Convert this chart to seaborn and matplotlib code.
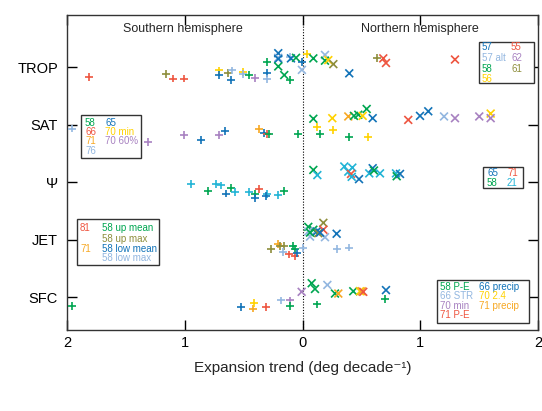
import matplotlib
matplotlib.use("Agg")
import matplotlib.pyplot as plt
import seaborn as sns
import pandas as pd
from matplotlib.patches import Rectangle

# ---------------- data ----------------
metrics = ["TROP", "SAT", "Ψ", "JET", "SFC"]
xticks = [-2, -1, 0, 1, 2]
xtick_labels = ["2", "1", "0", "1", "2"]

palette = {
    "blue": "#1273b8", "lightblue": "#93b7e0", "red": "#ee5540",
    "green": "#00a651", "olive": "#8e8e3c", "yellow": "#ffd200",
    "orange": "#f7a823", "purple": "#a882c1", "cyan": "#22b4d6",
}

# trend (negative = Southern hemisphere), small vertical offset within row
trop_trend = [-1.811, -1.159, -1.102, -1.006, -0.707, -0.707, -0.630, -0.601, -0.607,
              -0.508, -0.503, -0.452, -0.403, -0.304, -0.304, -0.304, -0.206, -0.206,
              -0.206, -0.206, -0.106, -0.098, -0.055, -0.155, -0.106, -0.005, -0.005,
              0.041, 0.092, 0.191, 0.191, 0.219, 0.262, 0.397, 0.635, 0.686, 0.709, 1.295]
trop_offset = [0.18, 0.12, 0.20, 0.20, 0.06, 0.14, 0.11, 0.06, 0.23,
               0.09, 0.12, 0.14, 0.19, 0.11, 0.21, -0.09, -0.24, -0.16,
               -0.14, -0.01, -0.18, -0.15, -0.16, 0.14, 0.23, -0.09, 0.05,
               -0.23, -0.15, -0.21, -0.11, -0.12, -0.05, 0.11, -0.15, -0.15, -0.07, -0.13]
trop_marker = list("++++++++++++++++x" "xxx+xxx++x+" "xxxxxx+xxxx")
trop_color = ["red", "olive", "red", "red", "yellow", "blue", "olive", "lightblue", "blue",
              "yellow", "lightblue", "green", "purple", "blue", "lightblue", "green", "blue", "lightblue",
              "blue", "green", "lightblue", "blue", "green", "green", "green", "blue", "lightblue",
              "yellow", "green", "lightblue", "green", "yellow", "olive", "blue", "olive", "red", "red", "red"]

sat_trend = [-1.960, -1.310, -1.006, -0.865, -0.707, -0.658, -0.367, -0.327, -0.304, -0.282,
             -0.036, 0.092, 0.126, 0.149, 0.253, 0.256, 0.389, 0.437, 0.474, 0.511,
             0.545, 0.596, 0.397, 0.559, 0.898, 0.998, 1.068, 1.202, 1.295, 1.501, 1.598, 1.598]
sat_offset = [0.07, 0.30, 0.19, 0.27, 0.19, 0.11, 0.08, 0.15, 0.17, 0.17,
              0.17, -0.10, 0.05, 0.17, -0.11, 0.10, -0.14, -0.15, -0.17, -0.15,
              -0.27, -0.11, 0.21, 0.22, -0.08, -0.15, -0.23, -0.14, -0.11, -0.14, -0.19, -0.11]
sat_marker = list("+++++++++++x++x+xxxxxx++xxxxxxxx")
sat_color = ["lightblue", "purple", "purple", "blue", "purple", "blue", "orange", "blue", "red", "green",
             "green", "green", "yellow", "green", "yellow", "yellow", "orange", "green", "green", "yellow",
             "green", "blue", "green", "yellow", "red", "blue", "blue", "lightblue", "purple", "purple", "yellow", "purple"]

psi_trend = [-0.947, -0.805, -0.737, -0.695, -0.652, -0.607, -0.573, -0.454, -0.367, -0.403,
             -0.403, -0.299, -0.310, -0.206, -0.155, 0.092, 0.126, 0.355, 0.423, 0.389,
             0.412, 0.418, 0.480, 0.567, 0.596, 0.607, 0.658, 0.794, 0.800, 0.828]
psi_offset = [0.03, 0.16, 0.03, 0.06, 0.20, 0.11, 0.17, 0.17, 0.12, 0.21,
              0.28, 0.21, 0.24, 0.23, 0.16, -0.21, -0.12, -0.27, -0.25, -0.18,
              -0.14, -0.09, -0.05, -0.15, -0.24, -0.20, -0.15, -0.15, -0.10, -0.14]
psi_marker = list("+++++++++++++++xxxxxxxxxxxxxxx")
psi_color = ["cyan", "green", "cyan", "cyan", "blue", "green", "cyan", "cyan", "red", "green",
             "blue", "cyan", "blue", "cyan", "green", "green", "cyan", "cyan", "cyan", "cyan",
             "red", "cyan", "blue", "cyan", "blue", "green", "cyan", "cyan", "green", "blue"]

jet_trend = [-0.268, -0.206, -0.191, -0.157, -0.163, -0.078, -0.064, -0.112, -0.064, -0.044,
             0.007, 0.296, 0.397, 0.049, 0.177, 0.064, 0.191, 0.290, 0.092, 0.121,
             0.049, 0.177, 0.134, 0.064, 0.149]
jet_offset = [0.17, 0.08, 0.11, 0.12, 0.21, 0.11, 0.17, 0.26, 0.29, 0.23,
              0.15, 0.17, 0.14, -0.22, -0.29, -0.05, -0.04, -0.10, -0.17, -0.14,
              -0.14, -0.17, -0.11, -0.12, -0.12]
jet_marker = list("+++++++++++++xxxxxxxxxxxx")
jet_color = ["olive", "orange", "olive", "olive", "lightblue", "green", "green", "red", "red", "blue",
             "lightblue", "lightblue", "lightblue", "green", "olive", "lightblue", "lightblue", "blue", "green", "blue",
             "lightblue", "red", "olive", "green", "blue"]

sfc_trend = [-1.960, -0.522, -0.423, -0.409, -0.310, -0.185, -0.106, -0.106, -0.007, 0.078,
             0.106, 0.211, 0.126, 0.276, 0.304, 0.431, 0.488, 0.503, 0.516, 0.709, 0.701]
sfc_offset = [0.16, 0.18, 0.20, 0.11, 0.18, 0.06, 0.06, 0.16, -0.09, -0.24,
              -0.14, -0.21, 0.13, -0.06, -0.06, -0.10, -0.10, -0.10, -0.09, -0.12, 0.04]
sfc_marker = list("++++++++xxxx+xxxxxxx+")
sfc_color = ["green", "blue", "orange", "yellow", "red", "lightblue", "purple", "green", "purple", "green",
             "green", "lightblue", "green", "green", "orange", "green", "yellow", "orange", "red", "blue", "green"]

# legend boxes: entries (text, colour)
box_trop = [[("57", "blue"), ("57 alt", "lightblue"), ("58", "green"), ("56", "yellow")],
            [("55", "red"), ("62", "purple"), ("61", "olive")]]
box_sat = [[("58", "green"), ("66", "red"), ("71", "orange"), ("76", "lightblue")],
           [("65", "blue"), ("70 min", "yellow"), ("70 60%", "purple")]]
box_psi = [[("65", "blue"), ("58", "green")], [("71", "red"), ("21", "cyan")]]
box_jet = [[("81", "red"), ("", "red"), ("71", "orange")],
           [("58 up mean", "green"), ("58 up max", "olive"), ("58 low mean", "blue"), ("58 low max", "lightblue")]]
box_sfc = [[("58 P-E", "green"), ("66 STR", "lightblue"), ("70 min", "purple"), ("71 P-E", "red")],
           [("66 precip", "blue"), ("70 2.4", "yellow"), ("71 precip", "orange")]]

# ---------------- build table ----------------
rows = []
for i, (tr, off, mk, col) in enumerate([
        (trop_trend, trop_offset, trop_marker, trop_color),
        (sat_trend, sat_offset, sat_marker, sat_color),
        (psi_trend, psi_offset, psi_marker, psi_color),
        (jet_trend, jet_offset, jet_marker, jet_color),
        (sfc_trend, sfc_offset, sfc_marker, sfc_color)]):
    for t, o, m, c in zip(tr, off, mk, col):
        rows.append({"metric": metrics[i], "trend": t, "ypos": i + o, "marker": m, "colour": c})
df = pd.DataFrame(rows)

# ---------------- plot ----------------
sns.set_style("white")
plt.rcParams["font.family"] = ["Liberation Sans", "DejaVu Sans"]

W, H = 542, 411
fig = plt.figure(figsize=(W / 100, H / 100), dpi=100)
ax = fig.add_axes([67 / W, 1 - 330 / H, (538 - 67) / W, (330 - 15) / H])

sns.scatterplot(data=df, x="trend", y="ypos", hue="colour", style="marker",
                palette=palette, markers={"+": "+", "x": "x"}, s=32, linewidth=1.2,
                legend=False, ax=ax, zorder=3)

ax.axvline(0, color="black", ls=(0, (1, 1.5)), lw=0.8, zorder=1)

ax.set_xlim(-2, 2)
ax.set_ylim(4 + 33 / 57.5, -52 / 57.5)
ax.set_xticks(xticks)
ax.set_xticklabels(xtick_labels, fontsize=10.5)
ax.set_yticks(range(len(metrics)))
ax.set_yticklabels(metrics, fontsize=10.5)
ax.tick_params(axis="y", direction="in", length=7, width=1, right=True, left=True, pad=6.5, colors="black")
ax.tick_params(axis="x", direction="in", length=7, width=1, bottom=True, top=True, pad=4, colors="black")
ax.set_xlabel("Expansion trend (deg decade⁻¹)", fontsize=11, labelpad=8)
ax.set_ylabel("")
for sp in ax.spines.values():
    sp.set_color("#333333")
    sp.set_linewidth(1.0)

ax.text(-1.02, -0.66, "Southern hemisphere", ha="center", va="center", fontsize=9)
ax.text(1.0, -0.66, "Northern hemisphere", ha="center", va="center", fontsize=9)


def px(x, y):
    return x / W, 1 - y / H


def draw_box(x0, y0, x1, y1, cols, col_x, row_y):
    fx, fy = px(x0, y1)
    fig.patches.append(Rectangle((fx, fy), (x1 - x0) / W, (y1 - y0) / H, transform=fig.transFigure,
                                 facecolor="white", edgecolor="#333333", lw=1.0, zorder=5))
    for cx, col in zip(col_x, cols):
        for ry, (txt, c) in zip(row_y, col):
            if txt:
                tx, ty = px(cx, ry)
                fig.text(tx, ty, txt, color=palette[c], fontsize=7, ha="left", va="center", zorder=6)


draw_box(479, 42, 534, 83, box_trop, [482, 511], [47, 58, 69, 79])
draw_box(81, 115, 141, 158, box_sat, [85, 105], [122.5, 132, 141.5, 151])
draw_box(483, 167, 523, 188, box_psi, [487, 507], [173, 183])
draw_box(77, 219, 159, 265, box_jet, [80, 102], [228, 238.5, 248.5, 258])
draw_box(437, 280, 529, 323, box_sfc, [440, 479], [287, 296, 305.5, 315])

fig.savefig("out.png", dpi=100)
